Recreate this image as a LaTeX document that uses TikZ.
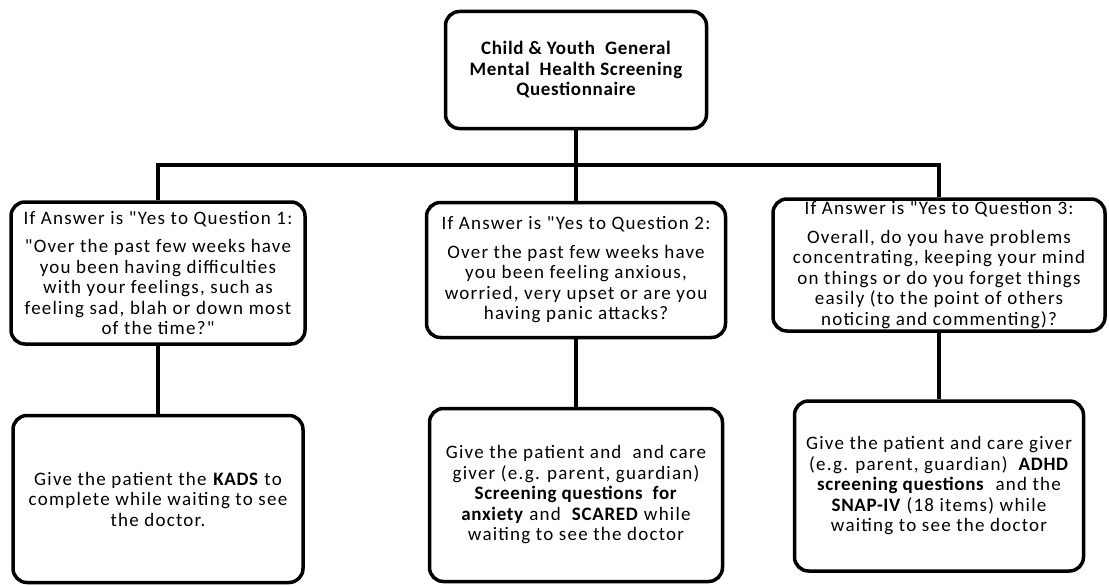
\documentclass[tikz,border=0pt]{standalone}
\usepackage{fontspec}
\setmainfont{Carlito}[Ligatures=TeXOff, LetterSpace=6.5, BoldFeatures={LetterSpace=3.5}]
\usepackage{tikz}
\usetikzlibrary{positioning}

\begin{document}
\begin{tikzpicture}[
    x=1pt, y=-1pt,
    box/.style={draw, line width=3.5pt, rounded corners=14pt, fill=white, align=center, inner sep=2pt, font=\fontsize{19}{20.5}\selectfont},
    link/.style={line width=3.5pt}
]
    \useasboundingbox (0,0) rectangle (1109,586);

    % Top box
    \node[box, minimum width=261pt, minimum height=117pt, font=\bfseries\fontsize{19}{20.5}\selectfont] (top) at (576,70)
        {Child \& Youth\ \ General\\ Mental\ \ Health Screening\\ Questionnaire};

    % Questions
    \node[box, minimum width=294pt, minimum height=142pt] (q1) at (158,273)
        {If Answer is "Yes to Question 1:\\[8pt]
         "Over the past few weeks have\\ you been having difficulties\\ with your feelings, such as\\ feeling sad, blah or down most\\ of the time?"};
    \node[box, minimum width=299pt, minimum height=135pt] (q2) at (576,270)
        {If Answer is "Yes to Question 2:\\[8pt]
         Over the past few weeks have\\ you been feeling anxious,\\ worried, very upset or are you\\ having panic attacks?};
    \node[box, minimum width=332pt, minimum height=132pt] (q3) at (939,265)
        {If Answer is "Yes to Question 3:\\[8pt]
         Overall, do you have problems\\ concentrating, keeping your mind\\ on things or do you forget things\\ easily (to the point of others\\ noticing and commenting)?};

    % Actions
    \node[box, minimum width=290pt, minimum height=167pt] (a1) at (158,499)
        {Give the patient the \textbf{KADS} to\\ complete while waiting to see\\ the doctor.};
    \node[box, minimum width=293pt, minimum height=173pt] (a2) at (576,495)
        {Give the patient and\ \ and care\\ giver (e.g. parent, guardian)\\ \textbf{Screening questions\ \ for}\\ \textbf{anxiety} and\ \ \textbf{SCARED} while\\ waiting to see the doctor};
    \node[box, minimum width=289pt, minimum height=170pt] (a3) at (939,486)
        {Give the patient and care giver\\ (e.g. parent, guardian)\ \ \textbf{ADHD}\\ \textbf{screening questions}\ \ and the\\ \textbf{SNAP-IV} (18 items) while\\ waiting to see the doctor};

    % Connectors
    \coordinate (bus) at (576,165);
    \draw[link] (top.south) -- (bus);
    \draw[link] (q1.north) |- (bus) -| (q3.north);
    \draw[link] (bus) -- (q2.north);
    \draw[link] (q1.south) -- (a1.north);
    \draw[link] (q2.south) -- (a2.north);
    \draw[link] (q3.south) -- (a3.north);

\end{tikzpicture}
\end{document}
